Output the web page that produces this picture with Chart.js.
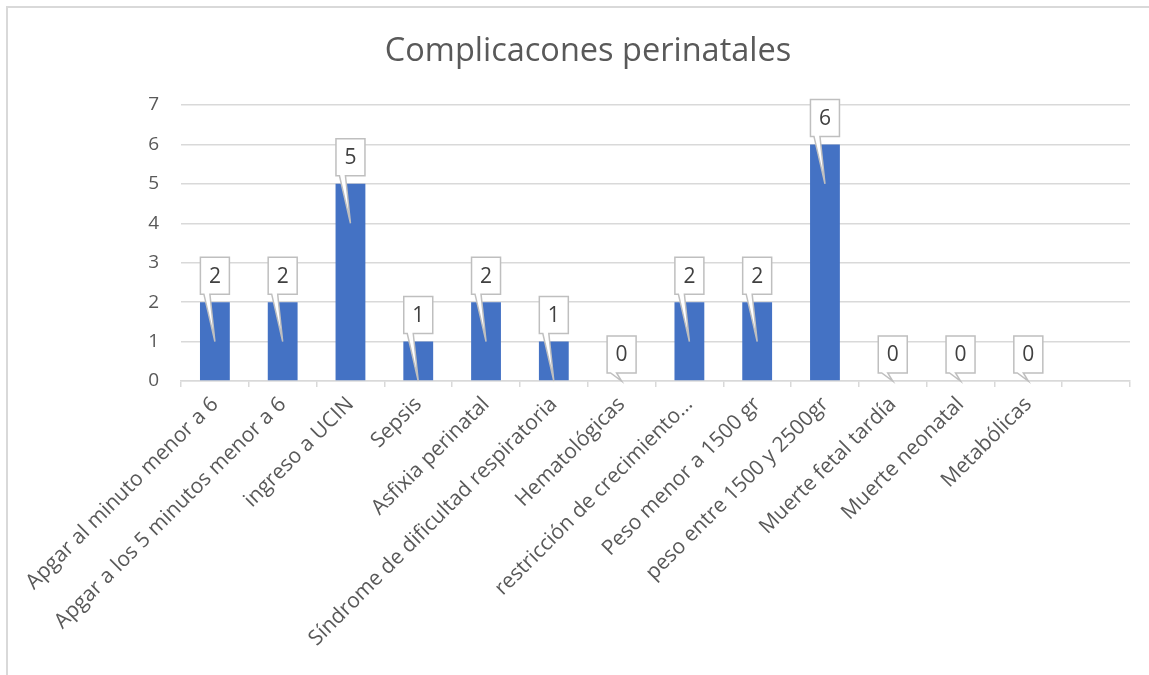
<!DOCTYPE html>
<html>
<head>
<meta charset="utf-8">
<script src="https://cdn.jsdelivr.net/npm/chart.js@4"></script>
<style>
  html, body { margin: 0; padding: 0; background: #fff; }
  #wrap { width: 1149px; height: 675px; }
</style>
</head>
<body>
<div id="wrap"><canvas id="chart"></canvas></div>
<script>
const titleText = 'Complicacones perinatales'

const categories = [
  'Apgar al minuto menor a 6',
  'Apgar a los 5 minutos menor a 6',
  'ingreso a UCIN',
  'Sepsis',
  'Asfixia perinatal',
  'Síndrome de dificultad respiratoria',
  'Hematológicas',
  'restricción de crecimiento…',
  'Peso menor a 1500 gr',
  'peso entre 1500 y 2500gr',
  'Muerte fetal tardía',
  'Muerte neonatal',
  'Metabólicas',
  '',
]

const counts = [2, 2, 5, 1, 2, 1, 0, 2, 2, 6, 0, 0, 0, null]

const yTicks = [0, 1, 2, 3, 4, 5, 6, 7]

const FONT = '"Open Sans", "Noto Sans", sans-serif'
const TEXT = '#595959'
const GRID = '#d9d9d9'

// white frame + title, drawn by hand so the plot area stays put
const frame = {
  id: 'frame',
  beforeDraw(chart) {
    const ctx = chart.ctx
    ctx.save()
    ctx.fillStyle = '#fff'
    ctx.fillRect(0, 0, chart.width, chart.height)
    ctx.strokeStyle = GRID
    ctx.lineWidth = 2
    ctx.strokeRect(7, 7, chart.width + 10, chart.height + 10)
    ctx.fillStyle = TEXT
    ctx.font = '32.5px ' + FONT
    ctx.textAlign = 'center'
    ctx.textBaseline = 'middle'
    ctx.fillText(titleText, 588, 52)
    ctx.restore()
  },
}

// excel style callout labels
const callouts = {
  id: 'callouts',
  afterDatasetsDraw(chart) {
    const ctx = chart.ctx
    const y = chart.scales.y
    const meta = chart.getDatasetMeta(0)
    const data = chart.data.datasets[0].data
    ctx.save()
    meta.data.forEach((bar, i) => {
      const v = data[i]
      if (v === null || v === undefined) return
      const cx = bar.x
      const w = 29
      const h = 37
      const bottom = bar.y - 8
      const top = bottom - h
      const left = cx - w / 2
      const right = cx + w / 2
      const tipY = y.getPixelForValue(Math.max(v - 1, 0))
      ctx.beginPath()
      ctx.moveTo(left, top)
      ctx.lineTo(right, top)
      ctx.lineTo(right, bottom)
      ctx.lineTo(cx - 5, bottom)
      ctx.lineTo(cx, tipY)
      ctx.lineTo(cx - 11, bottom)
      ctx.lineTo(left, bottom)
      ctx.closePath()
      ctx.fillStyle = '#fff'
      ctx.fill()
      ctx.strokeStyle = '#bfbfbf'
      ctx.lineWidth = 1.5
      ctx.stroke()
      ctx.fillStyle = '#404040'
      ctx.font = '21px ' + FONT
      ctx.textAlign = 'center'
      ctx.textBaseline = 'middle'
      ctx.fillText(String(v), cx, top + h / 2 + 1)
    })
    ctx.restore()
  },
}

new Chart(document.getElementById('chart'), {
  type: 'bar',
  data: {
    labels: categories,
    datasets: [
      {
        label: 'Complicaciones',
        data: counts,
        backgroundColor: '#4472c4',
        categoryPercentage: 1,
        barPercentage: 0.44,
      },
    ],
  },
  options: {
    responsive: true,
    maintainAspectRatio: false,
    animation: false,
    layout: { padding: { top: 105, left: 0, right: 19, bottom: 0 } },
    plugins: {
      legend: { display: false },
      title: { display: false },
      tooltip: { enabled: false },
    },
    scales: {
      x: {
        afterFit(scale) {
          scale.height = 294
        },
        grid: {
          offset: true,
          drawOnChartArea: false,
          drawTicks: true,
          tickLength: 6,
          color: GRID,
          lineWidth: 1.5,
        },
        border: { color: GRID, width: 1.5 },
        ticks: {
          autoSkip: false,
          minRotation: 45,
          maxRotation: 45,
          padding: 5,
          color: TEXT,
          font: { family: FONT, size: 21 },
        },
      },
      y: {
        min: 0,
        max: 7,
        afterFit(scale) {
          scale.width = 181
        },
        afterBuildTicks(scale) {
          scale.ticks = yTicks.map((v) => ({ value: v }))
        },
        grid: { color: GRID, lineWidth: 1.5, drawTicks: false },
        border: { display: false },
        ticks: {
          padding: 22,
          color: TEXT,
          font: { family: FONT, size: 19 },
        },
      },
    },
  },
  plugins: [frame, callouts],
})
</script>
</body>
</html>
